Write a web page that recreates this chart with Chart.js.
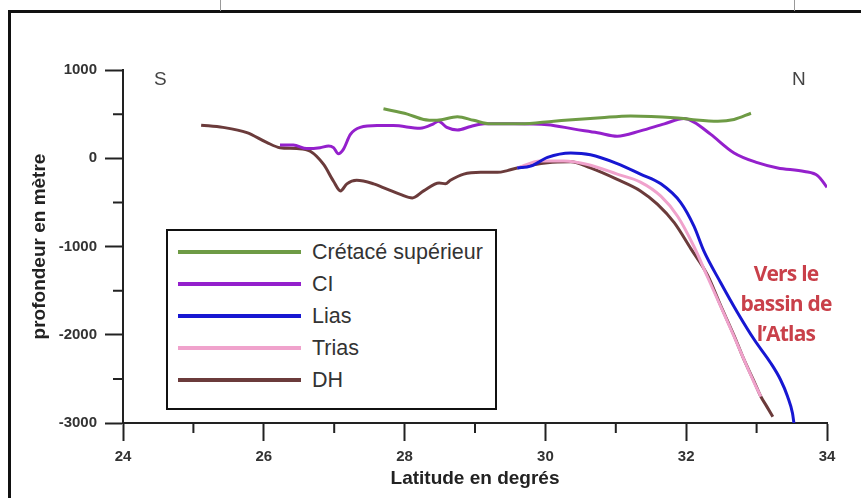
<!DOCTYPE html>
<html>
<head>
<meta charset="utf-8">
<script src="https://cdn.jsdelivr.net/npm/chart.js@4"></script>
<style>
  body { margin: 0; background: #fff; }
  #wrap { position: relative; width: 861px; height: 498px; overflow: hidden; font-family: "Liberation Sans", Arial, sans-serif; }
  #chart { position: absolute; left: 0; top: 0; }
  .frame-top { position: absolute; left: 8px; top: 10px; width: 853px; height: 3px; background: #111; }
  .frame-left { position: absolute; left: 8px; top: 10px; width: 3px; height: 488px; background: #111; }
  .mark { position: absolute; top: 0; width: 1px; height: 11px; background: #999; }
  #legend { position: absolute; left: 166px; top: 229px; width: 327px; height: 177px; border: 2.5px solid #111; background: #fff; }
  .leg-row { position: absolute; left: 0; height: 24px; }
  .leg-line { position: absolute; left: 10px; top: 10px; width: 123px; height: 4px; }
  .leg-text { position: absolute; left: 144px; top: 0; font-size: 21.5px; line-height: 24px; color: #333; white-space: nowrap; }
  .cardinal { position: absolute; font-size: 19px; color: #444; }
  #atlas { position: absolute; left: 726px; top: 258px; width: 120px; text-align: center;
           font-family: "Open Sans", sans-serif; font-weight: 700; font-size: 21px; line-height: 30px;
           color: #c9404a; letter-spacing: -0.8px; }
</style>
</head>
<body>
<div id="wrap">
  <canvas id="chart" width="861" height="498"></canvas>
  <div class="frame-top"></div>
  <div class="frame-left"></div>
  <div class="mark" style="left:220px"></div>
  <div class="mark" style="left:794px"></div>
  <div class="cardinal" style="left:154px; top:68px;">S</div>
  <div class="cardinal" style="left:792px; top:68px;">N</div>
  <div id="atlas">Vers le<br>bassin de<br>l’Atlas</div>
  <div id="legend"></div>
</div>
<script>
// Series names and colours (legend order)
const seriesNames = ['Crétacé supérieur', 'CI', 'Lias', 'Trias', 'DH'];
const seriesColors = ['#6e9b45', '#9420cc', '#1717d2', '#f0a2cc', '#6b3b3b'];

// Latitude (degrees) / depth (m)
const latCretace = [27.70, 28.04, 28.27, 28.46, 28.75, 28.98, 29.22, 29.65, 30.12, 30.79, 31.21, 31.83, 32.07, 32.45, 32.68, 32.92];
const depthCretace = [560, 500, 440, 430, 470, 430, 390, 390, 420, 460, 480, 460, 440, 420, 440, 510];

const latCI = [26.23, 26.42, 26.61, 26.80, 26.92, 26.99, 27.06, 27.13, 27.23, 27.37, 27.61, 27.84, 28.22, 28.41, 28.48, 28.60, 28.75, 28.94, 29.13, 29.55, 30.03, 30.41, 30.74, 31.02, 31.35, 31.69, 31.97, 32.11, 32.35, 32.68, 33.01, 33.30, 33.68, 33.87, 34.00];
const depthCI = [150, 150, 110, 120, 140, 120, 50, 100, 270, 350, 370, 370, 340, 390, 420, 350, 320, 360, 390, 390, 380, 330, 290, 250, 310, 390, 450, 410, 270, 60, -50, -110, -150, -200, -330];

const latLias = [29.60, 29.79, 30.03, 30.36, 30.64, 31.02, 31.35, 31.64, 31.92, 32.11, 32.25, 32.49, 32.73, 32.97, 33.20, 33.34, 33.44, 33.51, 33.53];
const depthLias = [-110, -90, 10, 60, 40, -60, -180, -290, -500, -770, -1050, -1410, -1750, -2060, -2320, -2510, -2700, -2890, -3000];

const latTrias = [29.60, 29.93, 30.26, 30.60, 31.02, 31.35, 31.64, 31.88, 32.11, 32.30, 32.49, 32.68, 32.82, 32.97, 33.06];
const depthTrias = [-110, -30, -30, -70, -180, -270, -430, -660, -1000, -1340, -1680, -2020, -2280, -2550, -2700];

const latDH = [25.11, 25.42, 25.76, 26.04, 26.23, 26.47, 26.66, 26.85, 26.99, 27.09, 27.18, 27.32, 27.56, 27.75, 27.94, 28.11, 28.27, 28.49, 28.58, 28.65, 28.84, 29.08, 29.32, 29.46, 29.60, 30.03, 30.36, 30.64, 31.02, 31.35, 31.59, 31.83, 32.07, 32.30, 32.49, 32.68, 32.82, 32.97, 33.06, 33.15, 33.23];
const depthDH = [375, 350, 290, 180, 120, 110, 80, -70, -260, -370, -290, -250, -290, -350, -410, -450, -370, -280, -290, -250, -180, -160, -160, -140, -110, -50, -40, -110, -240, -370, -520, -730, -1030, -1320, -1670, -2010, -2280, -2540, -2700, -2820, -2930];

// Axis ticks
const xTicks = [24, 26, 28, 30, 32, 34];
const yTicks = [-3000, -2000, -1000, 0, 1000];

function toPoints(xs, ys) {
    return xs.map((x, i) => ({ x: x, y: ys[i] }));
}

const seriesData = [
    toPoints(latCretace, depthCretace),
    toPoints(latCI, depthCI),
    toPoints(latLias, depthLias),
    toPoints(latTrias, depthTrias),
    toPoints(latDH, depthDH)
];

// Minor ticks between the labelled ones
const minorTicks = {
    id: 'minorTicks',
    afterDraw(chart) {
        const ctx = chart.ctx;
        const xs = chart.scales.x, ys = chart.scales.y;
        ctx.save();
        ctx.strokeStyle = '#222';
        ctx.lineWidth = 2;
        ctx.beginPath();
        for (let v = xs.min + 1; v < xs.max; v += 2) {
            const px = xs.getPixelForValue(v);
            ctx.moveTo(px, xs.top);
            ctx.lineTo(px, xs.top + 10);
        }
        for (let v = ys.min + 500; v < ys.max; v += 1000) {
            const py = ys.getPixelForValue(v);
            ctx.moveTo(ys.right, py);
            ctx.lineTo(ys.right - 10, py);
        }
        ctx.stroke();
        ctx.restore();
    }
};

const tickFont = { family: '"Liberation Sans", Arial, sans-serif', size: 15, weight: 'bold' };
const titleFont = { family: '"Liberation Sans", Arial, sans-serif', size: 19, weight: 'bold' };

new Chart(document.getElementById('chart'), {
    type: 'line',
    data: {
        datasets: seriesNames.map((name, i) => ({
            label: name,
            data: seriesData[i],
            borderColor: seriesColors[i],
            backgroundColor: seriesColors[i],
            borderWidth: 3,
            pointRadius: 0,
            cubicInterpolationMode: 'monotone',
            fill: false
        }))
    },
    options: {
        responsive: false,
        animation: false,
        layout: { padding: { left: 0, top: 70, right: 34, bottom: 0 } },
        plugins: { legend: { display: false }, tooltip: { enabled: false } },
        scales: {
            x: {
                type: 'linear',
                min: 24, max: 34,
                afterFit(scale) { scale.height = 75; },
                afterBuildTicks(scale) { scale.ticks = xTicks.map(v => ({ value: v })); },
                border: { display: true, color: '#222', width: 2 },
                grid: { drawOnChartArea: false, tickLength: 18, tickColor: '#222', tickWidth: 2 },
                ticks: { font: tickFont, color: '#333', padding: 7, maxRotation: 0, callback: v => String(v) },
                title: { display: true, text: 'Latitude en degrés', font: titleFont, color: '#222', padding: { top: 0, bottom: 8 } }
            },
            y: {
                min: -3000, max: 1000,
                afterFit(scale) { scale.width = 123; },
                afterBuildTicks(scale) { scale.ticks = yTicks.map(v => ({ value: v })); },
                border: { display: true, color: '#222', width: 2 },
                grid: { drawOnChartArea: false, tickLength: 18, tickColor: '#222', tickWidth: 2 },
                ticks: { font: tickFont, color: '#333', padding: 8, callback: v => String(v) },
                title: { display: true, text: 'profondeur en mètre', font: titleFont, color: '#222', padding: { top: 28, bottom: 0 } }
            }
        }
    },
    plugins: [minorTicks]
});

// Boxed legend inside the plot
const legend = document.getElementById('legend');
seriesNames.forEach((name, i) => {
    const row = document.createElement('div');
    row.className = 'leg-row';
    row.style.top = (9 + i * 32) + 'px';
    row.innerHTML = `<div class="leg-line" style="background:${seriesColors[i]}"></div><div class="leg-text">${name}</div>`;
    legend.appendChild(row);
});
</script>
</body>
</html>
